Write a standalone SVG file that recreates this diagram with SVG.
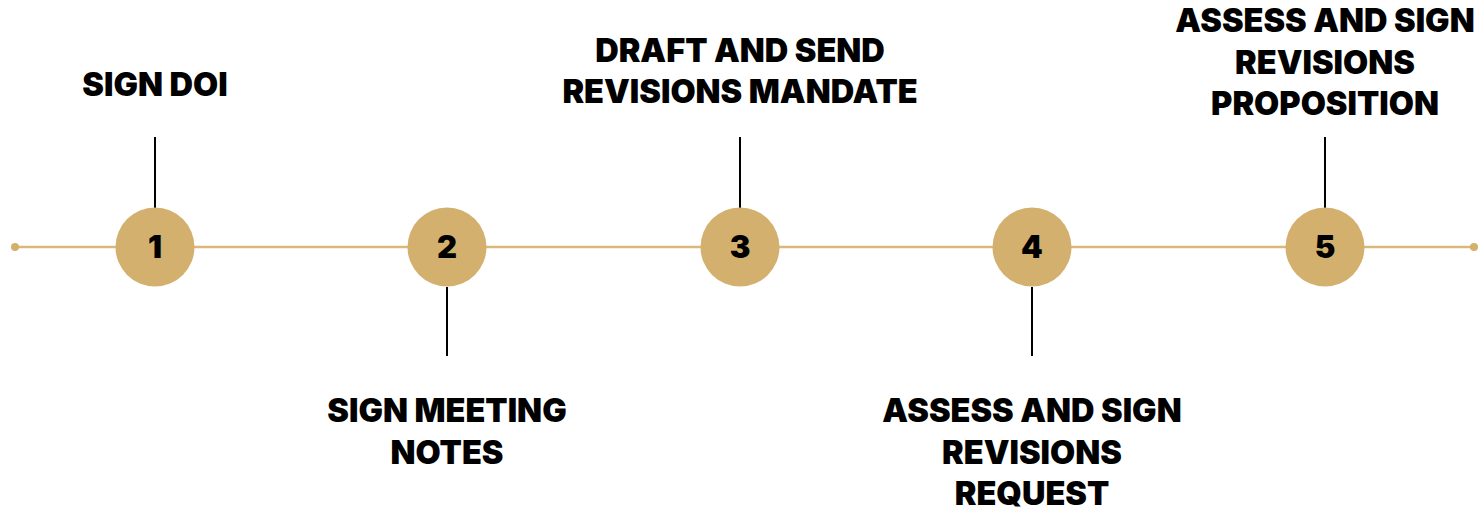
<svg xmlns="http://www.w3.org/2000/svg" width="1478" height="513" viewBox="0 0 1478 513">
<style>
.lbl{font-family:Inter,"Liberation Sans",sans-serif;font-weight:900;font-size:32.5px;fill:#000;text-anchor:middle}
.num{font-family:Inter,"Liberation Sans",sans-serif;font-weight:900;font-size:31px;fill:#000;text-anchor:middle}
.dot{fill:#d4b06e}
.tick{stroke:#000;stroke-width:2}
.axis{stroke:#d9b87a;stroke-width:2.5}
</style>
<rect width="1478" height="513" fill="#fff"/>
<g id="connectors">
<line class="axis" x1="15" y1="247" x2="1474" y2="247"/>
<circle cx="15" cy="247" r="4" fill="#d4b06e"/>
<circle cx="1474" cy="247" r="4" fill="#d4b06e"/>
<line class="tick" x1="155" y1="137" x2="155" y2="208"/>
<line class="tick" x1="447" y1="287" x2="447" y2="356"/>
<line class="tick" x1="740" y1="137" x2="740" y2="208"/>
<line class="tick" x1="1032" y1="287" x2="1032" y2="356"/>
<line class="tick" x1="1325" y1="137" x2="1325" y2="208"/>
</g>
<g id="node1">
<circle class="dot" cx="155" cy="247" r="39.5"/>
<text class="num" x="155" y="258">1</text>
<text class="lbl" x="155" y="96">SIGN DOI</text>
</g>
<g id="node2">
<circle class="dot" cx="447" cy="247" r="39.5"/>
<text class="num" x="447" y="258">2</text>
<text class="lbl" x="447" y="422">SIGN MEETING</text>
<text class="lbl" x="447" y="464">NOTES</text>
</g>
<g id="node3">
<circle class="dot" cx="740" cy="247" r="39.5"/>
<text class="num" x="740" y="258">3</text>
<text class="lbl" x="740" y="62">DRAFT AND SEND</text>
<text class="lbl" x="740" y="103">REVISIONS MANDATE</text>
</g>
<g id="node4">
<circle class="dot" cx="1032" cy="247" r="39.5"/>
<text class="num" x="1032" y="258">4</text>
<text class="lbl" x="1032" y="422">ASSESS AND SIGN</text>
<text class="lbl" x="1032" y="464">REVISIONS</text>
<text class="lbl" x="1032" y="505">REQUEST</text>
</g>
<g id="node5">
<circle class="dot" cx="1325" cy="247" r="39.5"/>
<text class="num" x="1325" y="258">5</text>
<text class="lbl" x="1325" y="32">ASSESS AND SIGN</text>
<text class="lbl" x="1325" y="74">REVISIONS</text>
<text class="lbl" x="1325" y="115">PROPOSITION</text>
</g>
</svg>
